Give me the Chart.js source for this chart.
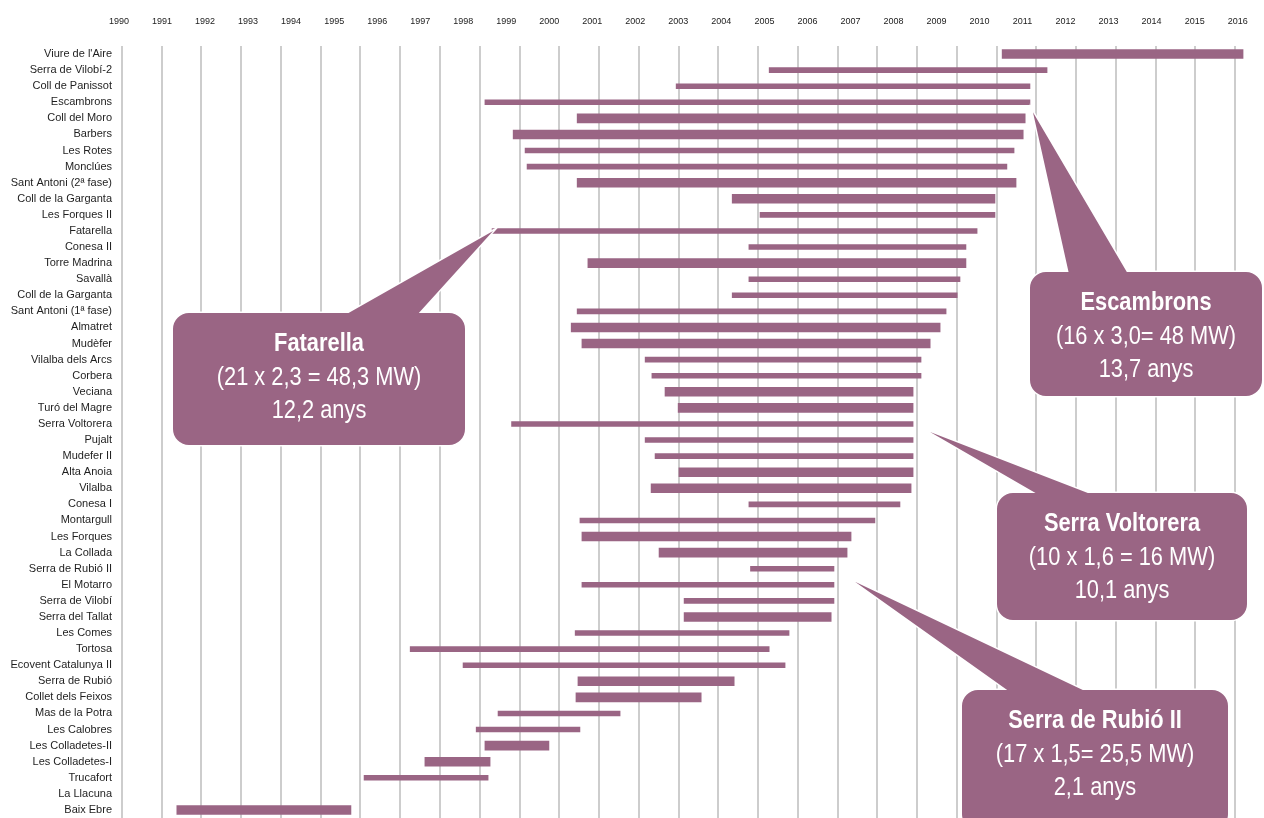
<!DOCTYPE html>
<html>
<head>
<meta charset="utf-8">
<title>Parcs eòlics</title>
<script src="https://cdn.jsdelivr.net/npm/chart.js@4.4.1/dist/chart.umd.min.js"></script>
<style>
  html, body { margin: 0; padding: 0; background: #fff; }
  #wrap { position: relative; width: 1264px; height: 818px; }
</style>
</head>
<body>
<div id="wrap"><canvas id="chartParcs"></canvas></div>
<script>
// Parcs (de dalt a baix)
const parcs = [
  "Viure de l'Aire", 'Serra de Vilobí-2', 'Coll de Panissot', 'Escambrons', 'Coll del Moro',
  'Barbers', 'Les Rotes', 'Monclúes', 'Sant Antoni (2ª fase)', 'Coll de la Garganta',
  'Les Forques II', 'Fatarella', 'Conesa II', 'Torre Madrina', 'Savallà',
  'Coll de la Garganta', 'Sant Antoni (1ª fase)', 'Almatret', 'Mudèfer', 'Vilalba dels Arcs',
  'Corbera', 'Veciana', 'Turó del Magre', 'Serra Voltorera', 'Pujalt',
  'Mudefer II', 'Alta Anoia', 'Vilalba', 'Conesa I', 'Montargull',
  'Les Forques', 'La Collada', 'Serra de Rubió II', 'El Motarro', 'Serra de Vilobí',
  'Serra del Tallat', 'Les Comes', 'Tortosa', 'Ecovent Catalunya II', 'Serra de Rubió',
  'Collet dels Feixos', 'Mas de la Potra', 'Les Calobres', 'Les Colladetes-II', 'Les Colladetes-I',
  'Trucafort', 'La Llacuna', 'Baix Ebre'
];

// inici i final de la tramitació (anys decimals)
const inici = [
  2012.14, 2006.28, 2003.94, 1999.13, 2001.45, 1999.84, 2000.14, 2000.19, 2001.45, 2005.35,
  2006.05, 1999.31, 2005.77, 2001.72, 2005.77, 2005.35, 2001.45, 2001.30, 2001.57, 2003.16,
  2003.33, 2003.66, 2003.99, 1999.80, 2003.16, 2003.41, 2004.01, 2003.31, 2005.77, 2001.52,
  2001.57, 2003.51, 2005.81, 2001.57, 2004.14, 2004.14, 2001.40, 1997.25, 1998.58, 2001.47,
  2001.42, 1999.46, 1998.91, 1999.13, 1997.62, 1996.09, null, 1991.38
];
const fi = [
  2018.20, 2013.27, 2012.84, 2012.84, 2012.72, 2012.67, 2012.44, 2012.26, 2012.49, 2011.96,
  2011.96, 2011.51, 2011.23, 2011.23, 2011.08, 2011.01, 2010.73, 2010.58, 2010.33, 2010.10,
  2010.10, 2009.90, 2009.90, 2009.90, 2009.90, 2009.90, 2009.90, 2009.85, 2009.57, 2008.94,
  2008.34, 2008.24, 2007.91, 2007.91, 2007.91, 2007.84, 2006.78, 2006.28, 2006.68, 2005.40,
  2004.57, 2002.53, 2001.52, 2000.74, 1999.26, 1999.21, null, 1995.76
];
// sèrie a la qual pertany cada parc (a = barra gruixuda, b = barra prima)
const serie = [
  'a','b','b','b','a','a','b','b','a','a',
  'b','b','b','a','b','b','b','a','a','b',
  'b','a','a','b','b','b','a','a','b','b',
  'a','a','b','b','b','a','b','b','b','a',
  'a','b','b','a','a','b','b','a'
];

// etiquetes de la capçalera i línies de la graella
const anysCapcalera = [1990, 1991, 1992, 1993, 1994, 1995, 1996, 1997, 1998, 1999, 2000, 2001, 2002, 2003,
  2004, 2005, 2006, 2007, 2008, 2009, 2010, 2011, 2012, 2013, 2014, 2015, 2016];
const anysGraella = [1990, 1991, 1992, 1993, 1994, 1995, 1996, 1997, 1998, 1999, 2000, 2001, 2002, 2003,
  2004, 2005, 2006, 2007, 2008, 2009, 2010, 2011, 2012, 2013, 2014, 2015, 2016, 2017, 2018];

const MALVA = '#9a6584';
const FONT = "'Liberation Sans Narrow', 'Arial Narrow', 'Liberation Sans', Arial, sans-serif";

const dadesSerie = (s) => parcs.map((p, i) => (serie[i] === s && inici[i] != null) ? [inici[i], fi[i]] : null);

// bafarades amb el resum d'alguns parcs
const bafarades = [
  { fila: 11, vora: 'inici', dx: 1, dy: 0, caixa: [173, 313, 292, 132], base: [345, 417],
    textos: ['Fatarella', '(21 x 2,3 = 48,3 MW)', '12,2 anys'] },
  { fila: 3, vora: 'fi', dx: 3, dy: 10, caixa: [1030, 272, 232, 124], base: [1069, 1128],
    textos: ['Escambrons', '(16 x 3,0= 48 MW)', '13,7 anys'] },
  { fila: 23, vora: 'fi', dx: 17, dy: 8, caixa: [997, 493, 250, 127], base: [1039, 1093],
    textos: ['Serra Voltorera', '(10 x 1,6 = 16 MW)', '10,1 anys'] },
  { fila: 32, vora: 'fi', dx: 21, dy: 13, caixa: [962, 690, 266, 140], base: [1010, 1087],
    textos: ['Serra de Rubió II', '(17 x 1,5= 25,5 MW)', '2,1 anys'] }
];

const pluginBafarades = {
  id: 'bafarades',
  afterDraw(chart) {
    const ctx = chart.ctx;
    const xs = chart.scales.x, ys = chart.scales.y;
    bafarades.forEach(b => {
      const valor = b.vora === 'inici' ? inici[b.fila] : fi[b.fila];
      const tx = xs.getPixelForValue(valor) + b.dx;
      const ty = ys.getPixelForValue(b.fila) + b.dy;
      const [x, y, w, h] = b.caixa;
      const forma = () => {
        ctx.beginPath();
        ctx.roundRect(x, y, w, h, 16);
        ctx.moveTo(b.base[0], y + 2);
        ctx.lineTo(tx, ty);
        ctx.lineTo(b.base[1], y + 2);
        ctx.closePath();
      };
      ctx.save();
      forma();
      ctx.lineWidth = 3;
      ctx.strokeStyle = '#ffffff';
      ctx.stroke();
      forma();
      ctx.fillStyle = MALVA;
      ctx.fill('nonzero');
      ctx.fillStyle = '#ffffff';
      ctx.textAlign = 'center';
      ctx.textBaseline = 'middle';
      b.textos.forEach((t, k) => {
        ctx.font = (k === 0 ? 'bold ' : '') + '26px ' + FONT;
        // lletra estreta: es comprimeix l'amplada
        const amp = ctx.measureText(t).width * 0.84;
        ctx.fillText(t, x + w / 2, y + 31 + k * 33.5, amp);
      });
      ctx.restore();
    });
  }
};

new Chart(document.getElementById('chartParcs'), {
  type: 'bar',
  data: {
    labels: parcs,
    datasets: [
      { label: 'a', data: dadesSerie('a'), backgroundColor: MALVA, barThickness: 9, grouped: false, xAxisID: 'x', yAxisID: 'y' },
      { label: 'b', data: dadesSerie('b'), backgroundColor: MALVA, barThickness: 5, grouped: false, xAxisID: 'x', yAxisID: 'y' }
    ]
  },
  options: {
    indexAxis: 'y',
    responsive: true,
    maintainAspectRatio: false,
    animation: false,
    layout: { padding: { left: 0, right: 13, top: 0, bottom: 0 } },
    plugins: { legend: { display: false }, tooltip: { enabled: false } },
    scales: {
      x: {
        type: 'linear',
        position: 'bottom',
        min: 1989.85,
        max: 2018.4,
        afterBuildTicks: s => { s.ticks = anysGraella.map(v => ({ value: v })); },
        afterFit: s => { s.height = 0; },
        ticks: { display: false },
        grid: { color: '#cdcdcd', lineWidth: 2, drawTicks: false },
        border: { display: false }
      },
      x2: {
        type: 'linear',
        position: 'top',
        min: 1989.93,
        max: 2016.31,
        afterBuildTicks: s => { s.ticks = anysCapcalera.map(v => ({ value: v })); },
        afterFit: s => { s.height = 46; s.paddingLeft = 0; s.paddingRight = 0; },
        ticks: {
          color: '#222', font: { family: FONT, size: 9 }, padding: 19, maxRotation: 0, autoSkip: false,
          callback: v => String(v)
        },
        grid: { display: false, drawTicks: false },
        border: { display: false }
      },
      y: {
        type: 'category',
        afterFit: s => { s.width = 116; s.paddingTop = 0; s.paddingBottom = 0; },
        ticks: { color: '#1e1e1e', font: { family: FONT, size: 11 }, padding: 4, autoSkip: false },
        grid: { display: false, drawTicks: false },
        border: { display: false }
      }
    }
  },
  plugins: [pluginBafarades]
});
</script>
</body>
</html>
